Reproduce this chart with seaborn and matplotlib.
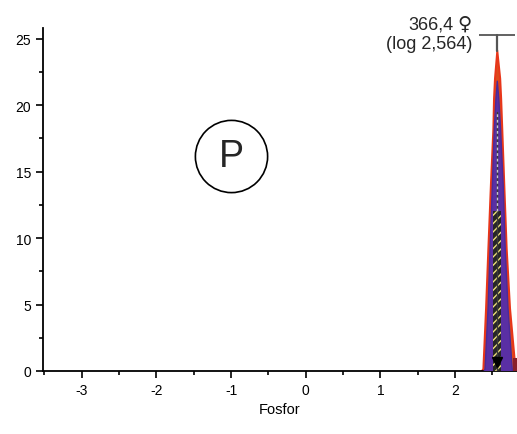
import matplotlib
matplotlib.use("Agg")
import matplotlib.pyplot as plt
import seaborn as sns
import numpy as np

# values
center = 2.566
label_value = "366,4"
label_sign = "\u2640"
label_log = "(log 2,564)"
err_top = 25.3
peak_red = 24.1

red_x = [2.36, 2.379, 2.415, 2.446, 2.48, 2.513, 2.522, 2.535, 2.566,
         2.605, 2.618, 2.633, 2.66, 2.692, 2.737, 2.81, 2.815]
red_y = [0.0, 0.15, 4.7, 9.2, 14.0, 18.2, 20.5, 22.0, 24.1,
         22.0, 20.5, 18.2, 14.0, 9.2, 4.7, 0.15, 0.0]
blue_x = [2.39, 2.402, 2.442, 2.469, 2.50, 2.526, 2.548, 2.566,
          2.586, 2.61, 2.645, 2.672, 2.71, 2.766, 2.77]
blue_y = [0.0, 0.15, 4.7, 9.2, 14.0, 18.2, 20.5, 21.8,
          20.5, 18.2, 14.0, 9.2, 4.7, 0.15, 0.0]
bar_height = 12.0
bar_width = 0.11
dash_top = 19.5
edge_bar_x = 2.80
edge_bar_h = 1.0

xticks = [-3, -2, -1, 0, 1, 2]
yticks = [0, 5, 10, 15, 20, 25]

sns.set_style("ticks")
plt.rcParams['font.family'] = ['Liberation Sans', 'DejaVu Sans']

fig = plt.figure(figsize=(5.17, 4.35), dpi=100)
ax = fig.add_axes([43 / 517, 63 / 435, 1 - 43 / 517, 343 / 435])

ax.fill(red_x, red_y, color='#dc4a1c', lw=0, zorder=2)
sns.lineplot(x=red_x, y=red_y, ax=ax, color='#e8361a', lw=1.4, sort=False, zorder=2)
ax.fill(blue_x, blue_y, color='#5a2fa4', lw=0, zorder=3)
sns.lineplot(x=blue_x, y=blue_y, ax=ax, color='#4b2a98', lw=1.0, sort=False, zorder=3)
ax.bar([edge_bar_x], [edge_bar_h], width=0.05, color='#8a1f2a', lw=0, zorder=3)

ax.bar([center], [bar_height], width=bar_width, color='#262626', edgecolor='#efe07a',
       hatch='////', lw=0, zorder=4)
ax.plot([center, center], [0, dash_top], color='#3a3a3a', lw=1.0, zorder=4)
ax.plot([center, center], [bar_height, dash_top], color='#c8c8c8', lw=1.0,
        ls=(0, (2, 2)), zorder=5)
ax.plot([center], [0.7], marker='v', color='black', ms=7, zorder=6)

# error whisker with a single top cap
ax.plot([center, center], [peak_red, err_top], color='#555555', lw=1.6, zorder=5)
ax.plot([center], [err_top], marker='_', ms=26, mew=1.3, color='#555555', zorder=5,
        clip_on=False)

ax.text(1.975, 25.75, label_value, ha='right', va='baseline', fontsize=13)
ax.text(2.228, 25.75, label_sign, ha='right', va='baseline', fontsize=14,
        family=['DejaVu Sans'])
ax.text(2.228, 24.3, label_log, ha='right', va='baseline', fontsize=13)

ax.plot([-1.0], [16.2], marker='o', ms=52, mfc='none', mec='black', mew=1.2)
ax.text(-1.0, 16.2, "P", ha='center', va='center', fontsize=27)

ax.set_xlim(-3.52, 2.83)
ax.set_ylim(0, 25.8)
ax.set_xticks(xticks)
ax.set_yticks(yticks)
ax.set_xticks(np.arange(-3.5, 2.8, 0.5), minor=True)
ax.set_yticks(np.arange(0, 25.8, 2.5), minor=True)
ax.set_xticklabels([str(t) for t in xticks])
ax.set_xlabel("Fosfor", fontsize=10.5, color='black')
ax.tick_params(axis='both', which='major', labelsize=10, length=5, width=1.2,
               direction='out', colors='black')
ax.tick_params(axis='both', which='minor', length=3, width=1.2, direction='out',
               colors='black')

sns.despine(ax=ax)
for s in ['left', 'bottom']:
    ax.spines[s].set_linewidth(1.3)
    ax.spines[s].set_color('black')
ax.patch.set_alpha(0)

fig.savefig("out.png", dpi=100)
